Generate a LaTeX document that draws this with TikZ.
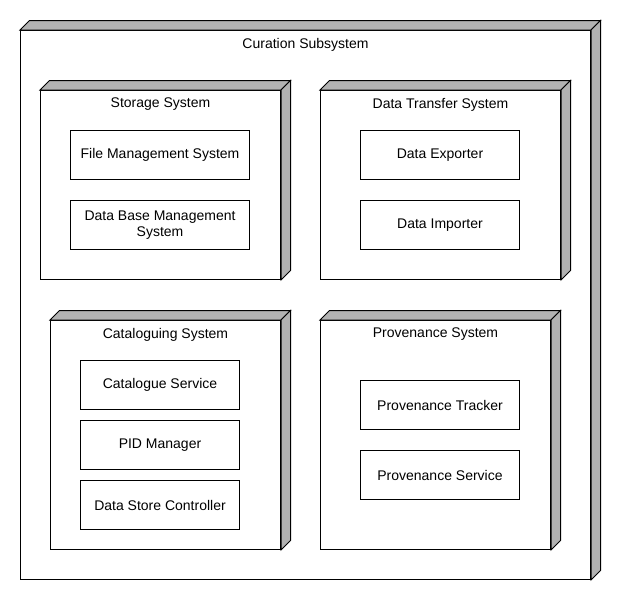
\documentclass[tikz,border=0pt]{standalone}
\usepackage{fontspec}
\setmainfont{Liberation Sans}
\usetikzlibrary{calc}
\definecolor{sidegray}{RGB}{178,178,178}
\tikzset{
  front/.style={draw=black, fill=white, line width=1pt, anchor=north west, inner sep=0pt},
  comp/.style={draw=black, fill=white, line width=1pt, anchor=north west, inner sep=0pt, align=center, font=\fontsize{14}{16.5}\selectfont},
  title/.style={anchor=center, inner sep=0pt, font=\fontsize{14}{16.5}\selectfont},
  side/.style={fill=sidegray, draw=black, line width=1pt, line join=miter}
}
\newcommand{\depthfaces}[2]{%
  \path[side] (#1.north west) -- ($(#1.north west)+(#2,-#2)$) -- ($(#1.north east)+(#2,-#2)$) -- (#1.north east) -- cycle;
  \path[side] (#1.north east) -- ($(#1.north east)+(#2,-#2)$) -- ($(#1.south east)+(#2,-#2)$) -- (#1.south east) -- cycle;
}
\begin{document}
\begin{tikzpicture}[x=1pt, y=-1pt]
\useasboundingbox (0,0) rectangle (620,600);
% outer
\node[front, minimum width=570pt, minimum height=549pt] (cur) at (20,30) {};
\depthfaces{cur}{9.5}
\node[title] (curT) at ($(cur.north)+(0,15)$) {Curation Subsystem};
% storage
\node[front, minimum width=240pt, minimum height=189pt] (sto) at (40,90) {};
\depthfaces{sto}{9.5}
\node[title] (stoT) at ($(sto.north)+(0,14.5)$) {Storage System};
\node[comp, minimum width=179pt, minimum height=49pt] (fms) at (70,130) {File Management System};
\node[comp, minimum width=179pt, minimum height=49pt] (dbms) at (70,200) {Data Base Management\\System};
% data transfer
\node[front, minimum width=240pt, minimum height=189pt] (dts) at (320,90) {};
\depthfaces{dts}{9.5}
\node[title] (dtsT) at ($(dts.north)+(0,14.5)$) {Data Transfer System};
\node[comp, minimum width=159pt, minimum height=49pt] (dex) at (360,130) {Data Exporter};
\node[comp, minimum width=159pt, minimum height=49pt] (dim) at (360,200) {Data Importer};
% cataloguing
\node[front, minimum width=230pt, minimum height=229pt] (cat) at (50,320) {};
\depthfaces{cat}{9.5}
\node[title] (catT) at ($(cat.north)+(0,14.5)$) {Cataloguing System};
\node[comp, minimum width=159pt, minimum height=49pt] (cs) at (80,360) {Catalogue Service};
\node[comp, minimum width=159pt, minimum height=49pt] (pid) at (80,420) {PID Manager};
\node[comp, minimum width=159pt, minimum height=49pt] (dsc) at (80,480) {Data Store Controller};
% provenance
\node[front, minimum width=230pt, minimum height=229pt] (prv) at (320,320) {};
\depthfaces{prv}{9.5}
\node[title] (prvT) at ($(prv.north)+(0,14.5)$) {Provenance System};
\node[comp, minimum width=159pt, minimum height=49pt] (pt) at (360,380) {Provenance Tracker};
\node[comp, minimum width=159pt, minimum height=49pt] (ps) at (360,450) {Provenance Service};
\end{tikzpicture}
\end{document}
